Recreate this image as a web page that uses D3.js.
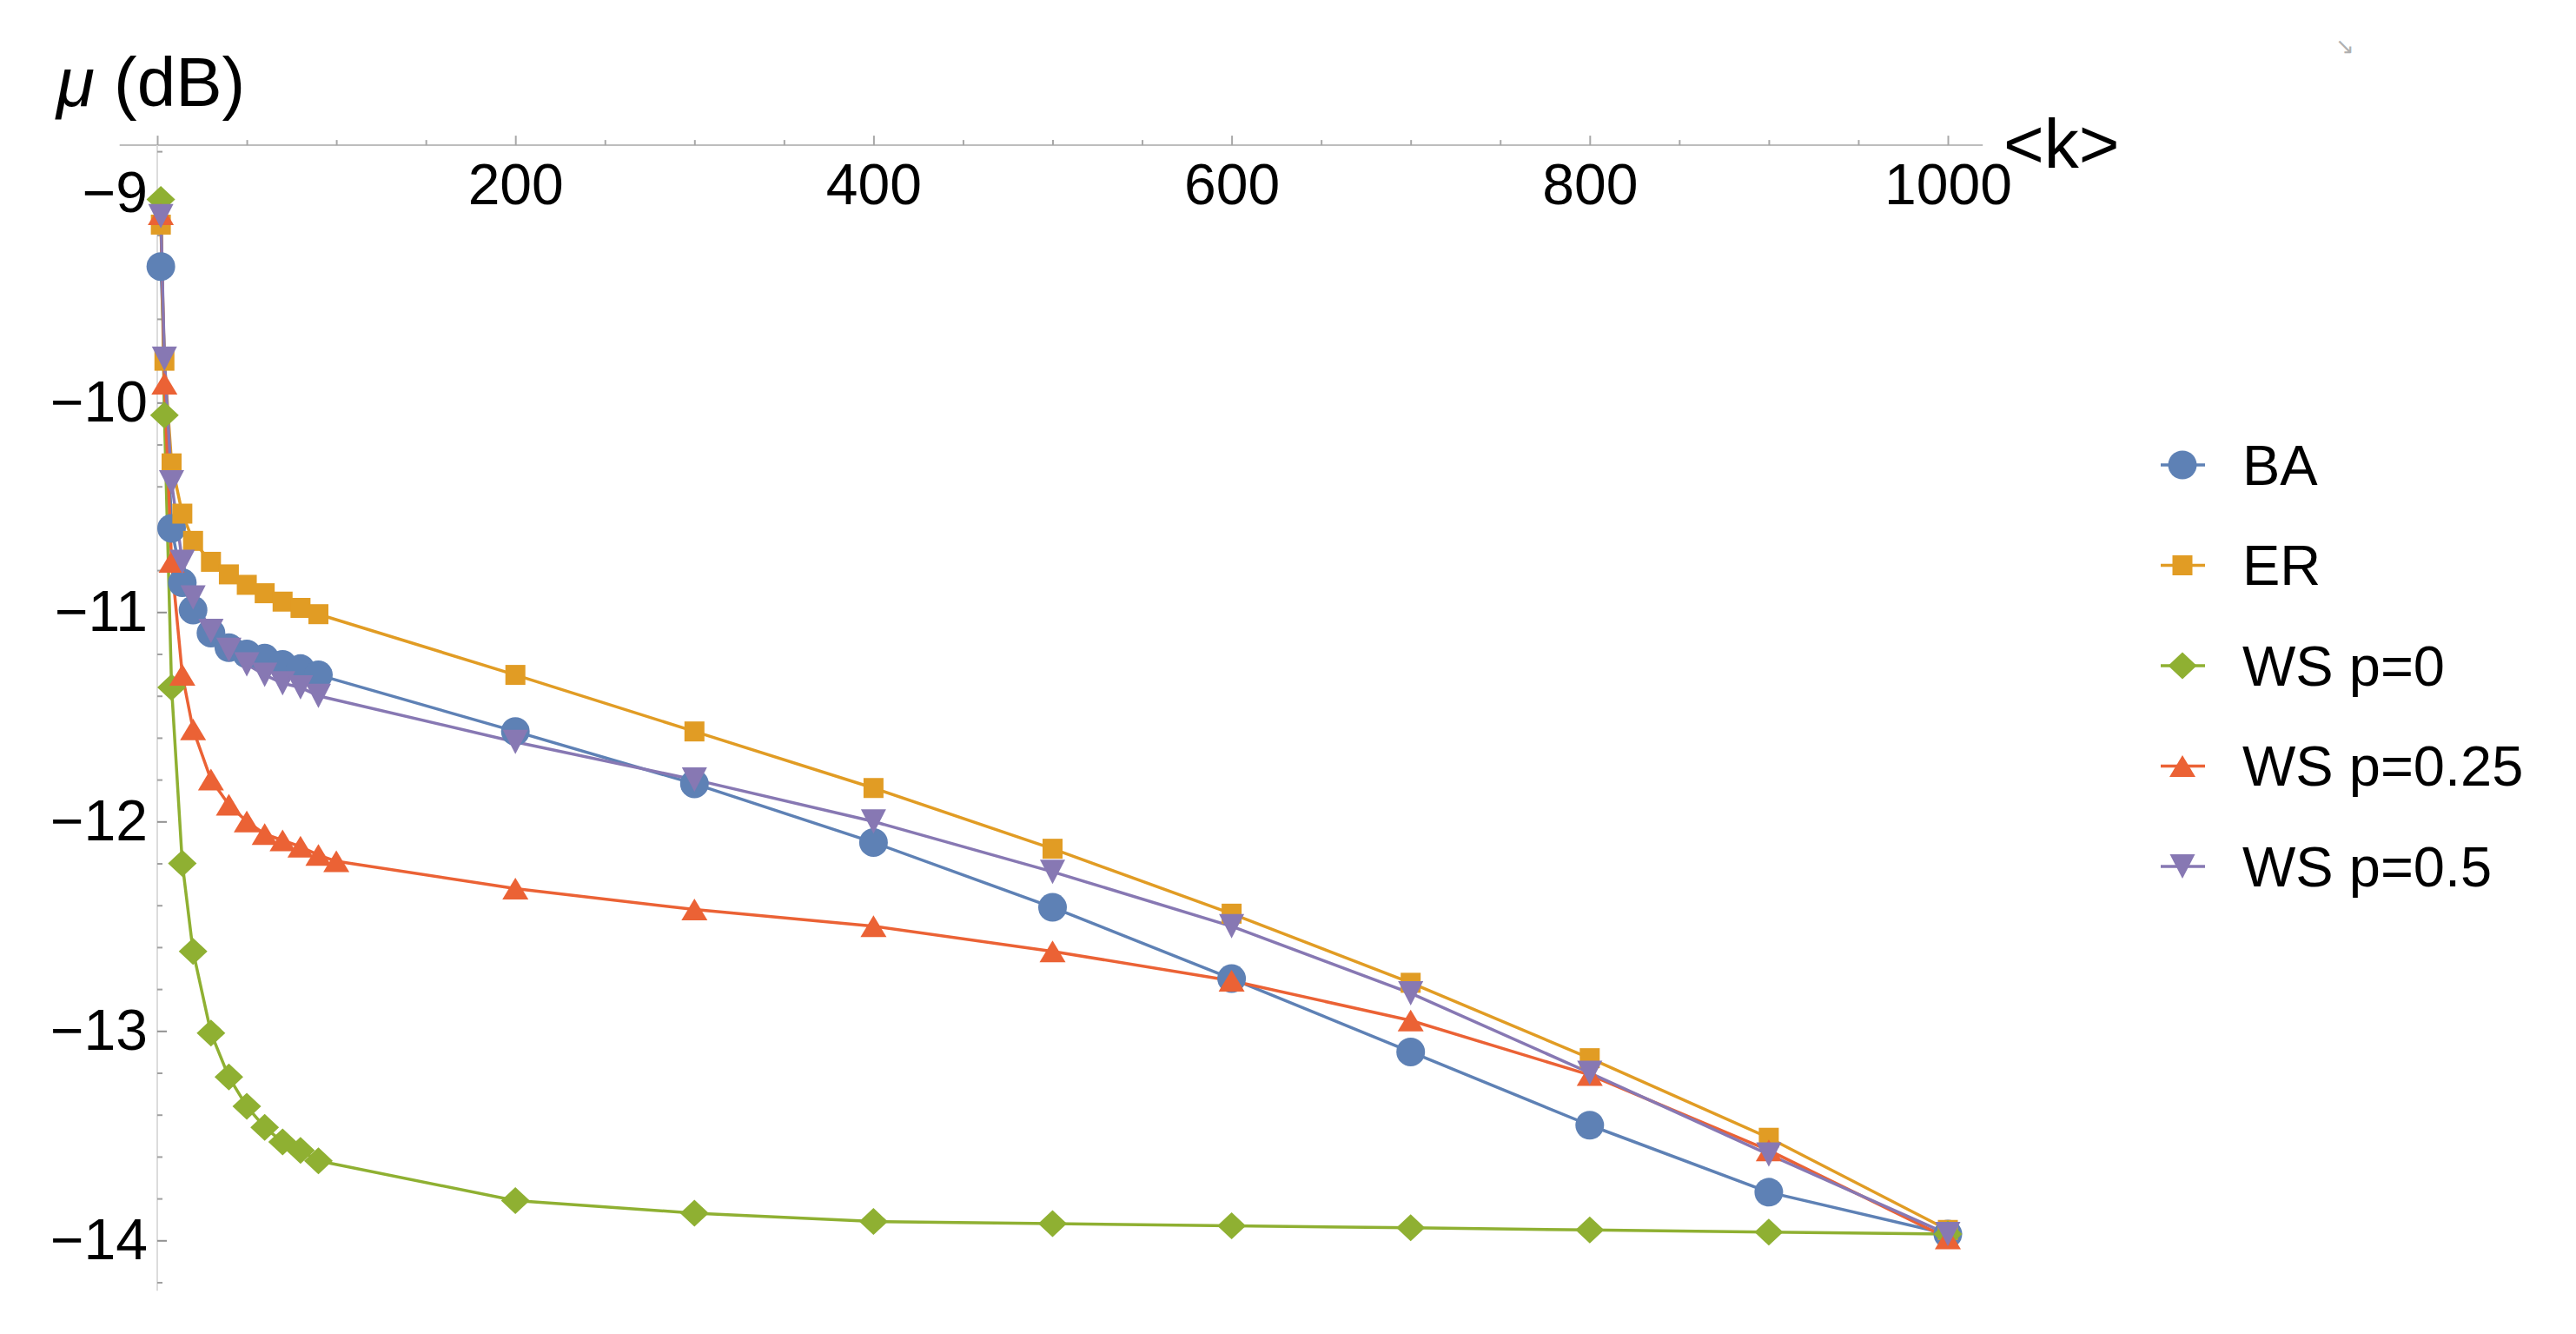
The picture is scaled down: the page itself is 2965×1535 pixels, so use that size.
<!DOCTYPE html>
<html>
<head>
<meta charset="utf-8">
<script src="https://d3js.org/d3.v7.min.js"></script>
<style>
  body { margin: 0; background: #fff; }
  text { font-family: "Liberation Sans", Arial, sans-serif; }
</style>
</head>
<body>
<div id="chart"></div>
<script>
// --- data ---
var seriesNames = ["BA", "ER", "WS p=0", "WS p=0.25", "WS p=0.5"];

var kBA   = [2, 8, 14, 20, 30, 40, 50, 60, 70, 80, 90, 200, 300, 400, 500, 600, 700, 800, 900, 1000];
var kER   = [2, 4, 8, 14, 20, 30, 40, 50, 60, 70, 80, 90, 200, 300, 400, 500, 600, 700, 800, 900, 1000];
var kWS0  = [2, 4, 8, 14, 20, 30, 40, 50, 60, 70, 80, 90, 200, 300, 400, 500, 600, 700, 800, 900, 1000];
var kWS25 = [2, 4, 8, 14, 20, 30, 40, 50, 60, 70, 80, 90, 100, 200, 300, 400, 500, 600, 700, 800, 900, 1000];
var kWS50 = [2, 4, 8, 14, 20, 30, 40, 50, 60, 70, 80, 90, 200, 300, 400, 500, 600, 700, 800, 900, 1000];

var muBA   = [-9.35, -10.60, -10.86, -10.99, -11.10, -11.17, -11.20, -11.22, -11.25, -11.27, -11.30,
              -11.57, -11.82, -12.10, -12.41, -12.75, -13.10, -13.45, -13.77, -13.97];
var muER   = [-9.15, -9.80, -10.29, -10.53, -10.66, -10.76, -10.82, -10.87, -10.91, -10.95, -10.98, -11.01,
              -11.30, -11.57, -11.84, -12.13, -12.44, -12.77, -13.13, -13.51, -13.95];
var muWS0  = [-9.03, -10.06, -11.36, -12.20, -12.62, -13.01, -13.22, -13.36, -13.46, -13.53, -13.57, -13.62,
              -13.81, -13.87, -13.91, -13.92, -13.93, -13.94, -13.95, -13.96, -13.97];
var muWS25 = [-9.10, -9.91, -10.76, -11.30, -11.56, -11.80, -11.92, -12.00, -12.06, -12.09, -12.12, -12.16, -12.19,
              -12.32, -12.42, -12.50, -12.62, -12.76, -12.95, -13.21, -13.57, -13.99];
var muWS50 = [-9.11, -9.79, -10.38, -10.76, -10.93, -11.09, -11.18, -11.25, -11.30, -11.34, -11.36, -11.40,
              -11.62, -11.80, -12.00, -12.24, -12.50, -12.82, -13.20, -13.59, -13.97];

var xMajorTicks = [0, 200, 400, 600, 800, 1000];
var yMajorTicks = [-9, -10, -11, -12, -13, -14];

// --- setup ---
var width = 2965;
var height = 1535;
var colors = ["#5E81B5", "#E19C24", "#8FB032", "#EB6235", "#8778B3"];
var shapes = ["circle", "square", "diamond", "up", "down"];

var series = [
  { name: seriesNames[0], k: kBA, mu: muBA },
  { name: seriesNames[1], k: kER, mu: muER },
  { name: seriesNames[2], k: kWS0, mu: muWS0 },
  { name: seriesNames[3], k: kWS25, mu: muWS25 },
  { name: seriesNames[4], k: kWS50, mu: muWS50 }
];
series.forEach(function (s, i) {
  s.color = colors[i];
  s.shape = shapes[i];
  s.points = s.k.map(function (k, j) { return { k: k, mu: s.mu[j] }; });
});

function markerPath(shape) {
  if (shape === "circle") return d3.symbol(d3.symbolCircle, Math.PI * 16.5 * 16.5)();
  if (shape === "square") return "M-11.5,-11.5h23v23h-23Z";
  if (shape === "diamond") return "M0,-15.5L16.5,0L0,15.5L-16.5,0Z";
  if (shape === "up") return "M0,-12.5L15,12.5L-15,12.5Z";
  return "M0,14L-14.5,-14L14.5,-14Z";
}

var svg = d3.select("#chart").append("svg")
  .attr("width", width).attr("height", height)
  .style("background", "#fff");

var xScale = d3.scaleLinear().domain([0, 1000]).range([181, 2242]);
var yScale = d3.scaleLinear().domain([-9, -14]).range([222.3, 1427.3]);

var axisY0 = yScale(-8.771);   // horizontal axis sits at the top of the plot range
var axisX0 = xScale(0);

// axis lines
svg.append("line")
  .attr("x1", xScale(-21)).attr("x2", xScale(1019.5))
  .attr("y1", axisY0).attr("y2", axisY0)
  .attr("stroke", "#bdbdbd").attr("stroke-width", 2);
svg.append("line")
  .attr("x1", axisX0).attr("x2", axisX0)
  .attr("y1", axisY0).attr("y2", yScale(-14.24))
  .attr("stroke", "#dcdcdc").attr("stroke-width", 2);

// x ticks (point up, labels below)
var xMinor = d3.range(50, 1001, 50).filter(function (v) { return v % 200 !== 0; });
svg.append("g")
  .attr("transform", "translate(0," + axisY0 + ")")
  .call(d3.axisBottom(xScale).tickValues(xMinor).tickSize(-6).tickFormat(""))
  .call(function (g) { g.select(".domain").remove(); })
  .call(function (g) { g.selectAll("line").attr("stroke", "#a8a8a8").attr("stroke-width", 2); });

svg.append("g")
  .attr("transform", "translate(0," + axisY0 + ")")
  .call(d3.axisBottom(xScale).tickValues(xMajorTicks).tickSize(-11).tickPadding(21)
    .tickFormat(function (d) { return d === 0 ? "" : d; }))
  .call(function (g) { g.select(".domain").remove(); })
  .call(function (g) { g.selectAll("line").attr("stroke", "#a8a8a8").attr("stroke-width", 2); })
  .call(function (g) {
    g.selectAll("text").attr("font-size", 66).attr("fill", "#000")
      .attr("font-family", "'Liberation Sans', Arial, sans-serif");
  });

// y ticks (point right, labels left)
var yMinor = d3.range(0, 28).map(function (i) { return -8.8 - i * 0.2; })
  .filter(function (v) { return Math.abs(v - Math.round(v)) > 0.01; });
svg.append("g")
  .attr("transform", "translate(" + axisX0 + ",0)")
  .call(d3.axisLeft(yScale).tickValues(yMinor).tickSize(-6).tickFormat(""))
  .call(function (g) { g.select(".domain").remove(); })
  .call(function (g) { g.selectAll("line").attr("stroke", "#a0a0a0").attr("stroke-width", 2); });

svg.append("g")
  .attr("transform", "translate(" + axisX0 + ",0)")
  .call(d3.axisLeft(yScale).tickValues(yMajorTicks).tickSize(-11).tickPadding(11)
    .tickFormat(function (d) { return "\u2212" + Math.abs(d); }))
  .call(function (g) { g.select(".domain").remove(); })
  .call(function (g) { g.selectAll("line").attr("stroke", "#909090").attr("stroke-width", 2); })
  .call(function (g) {
    g.selectAll("text").attr("font-size", 66).attr("fill", "#000")
      .attr("font-family", "'Liberation Sans', Arial, sans-serif");
  });

// axis labels
var yLabel = svg.append("text").attr("x", 65).attr("y", 122).attr("font-size", 80).attr("fill", "#000");
yLabel.append("tspan").attr("font-style", "italic").text("\u03bc");
yLabel.append("tspan").text(" (dB)");

svg.append("text").attr("x", 2306).attr("y", 193).attr("font-size", 80).attr("fill", "#000").text("<k>");

// small corner glyph
svg.append("text").attr("x", 2688).attr("y", 62).attr("font-size", 26).attr("fill", "#b0b0b0")
  .attr("font-family", "'DejaVu Sans', sans-serif").text("\u2198");

// lines
var line = d3.line()
  .x(function (d) { return xScale(d.k); })
  .y(function (d) { return yScale(d.mu); });

svg.append("g").selectAll("path")
  .data(series)
  .enter().append("path")
  .attr("d", function (s) { return line(s.points); })
  .attr("fill", "none")
  .attr("stroke", function (s) { return s.color; })
  .attr("stroke-width", 3.5)
  .attr("stroke-linejoin", "round");

// markers
series.forEach(function (s) {
  svg.append("g").selectAll("path")
    .data(s.points)
    .enter().append("path")
    .attr("d", markerPath(s.shape))
    .attr("transform", function (d) { return "translate(" + xScale(d.k) + "," + yScale(d.mu) + ")"; })
    .attr("fill", s.color);
});

// legend
var legend = svg.append("g");
var rows = legend.selectAll("g")
  .data(series)
  .enter().append("g")
  .attr("transform", function (s, i) { return "translate(2512," + (535 + i * 115.5) + ")"; });

rows.append("line")
  .attr("x1", -25).attr("x2", 26)
  .attr("stroke", function (s) { return s.color; })
  .attr("stroke-width", 3.5);
rows.append("path")
  .attr("d", function (s) { return markerPath(s.shape); })
  .attr("fill", function (s) { return s.color; });
rows.append("text")
  .attr("x", 69).attr("dy", "0.35em")
  .attr("font-size", 65).attr("fill", "#000")
  .text(function (s) { return s.name; });
</script>
</body>
</html>
